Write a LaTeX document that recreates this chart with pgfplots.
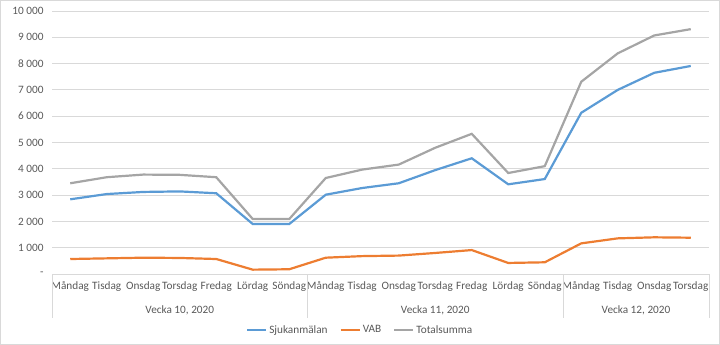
\documentclass[border=0pt]{standalone}
\usepackage{fontspec}
\setmainfont{Carlito}
\usepackage{pgfplots}
\pgfplotsset{compat=1.18}
\definecolor{sjuk}{HTML}{5B9BD5}
\definecolor{vab}{HTML}{ED7D31}
\definecolor{tot}{HTML}{A5A5A5}
\definecolor{txt}{HTML}{595959}
\definecolor{gridc}{HTML}{D9D9D9}
\begin{document}
\begin{tikzpicture}[x=1bp,y=1bp]
\begin{axis}[
  at={(52bp,71bp)}, anchor=south west,
  scale only axis, width=657bp, height=263bp,
  xmin=0, xmax=18, ymin=0, ymax=10000,
  clip=false,
  scaled y ticks=false,
  axis line style={draw=none},
  axis x line*=bottom,
  ytick={0,1000,...,10000},
  yticklabels={{-},{1 000},{2 000},{3 000},{4 000},{5 000},{6 000},{7 000},{8 000},{9 000},{10 000}},
  xtick={0.5,1.5,...,17.5},
  xticklabels={Måndag,Tisdag,Onsdag,Torsdag,Fredag,Lördag,Söndag,Måndag,Tisdag,Onsdag,Torsdag,Fredag,Lördag,Söndag,Måndag,Tisdag,Onsdag,Torsdag},
  major tick length=0pt,
  ymajorgrids, grid style={gridc, line width=0.8bp},
  ticklabel style={font=\fontsize{11.3}{13}\selectfont, text=txt},
  yticklabel style={xshift=-5bp},
  xticklabel style={yshift=-4bp},
  legend style={at={(0.469,-0.213)}, anchor=center, draw=none, legend columns=3,
    font=\fontsize{11.3}{13}\selectfont, text=txt,
    /tikz/every even column/.append style={column sep=10bp}},
  legend image code/.code={\draw[#1] (0bp,0bp) -- (19bp,0bp);},
  every axis plot/.append style={line width=2.2bp, no markers},
]
\draw[gridc, line width=0.8bp] (axis cs:0,0) -- (axis cs:18,0);
\draw[gridc, line width=0.8bp] (axis cs:0,0) -- ++(0,-44bp);
\draw[gridc, line width=0.8bp] (axis cs:7,0) -- ++(0,-44bp);
\draw[gridc, line width=0.8bp] (axis cs:14,0) -- ++(0,-44bp);
\draw[gridc, line width=0.8bp] (axis cs:18,0) -- ++(0,-44bp);
\node[font=\fontsize{11.3}{13}\selectfont, text=txt] at ([yshift=-36bp]axis cs:3.5,0) {Vecka 10, 2020};
\node[font=\fontsize{11.3}{13}\selectfont, text=txt] at ([yshift=-36bp]axis cs:10.5,0) {Vecka 11, 2020};
\node[font=\fontsize{11.3}{13}\selectfont, text=txt] at ([yshift=-36bp]axis cs:16,0) {Vecka 12, 2020};
\addplot[sjuk] coordinates {
(0.5,2840) (1.5,3040) (2.5,3120) (3.5,3140) (4.5,3070) (5.5,1900) (6.5,1900)
(7.5,3015) (8.5,3270) (9.5,3450) (10.5,3950) (11.5,4400) (12.5,3410) (13.5,3610)
(14.5,6130) (15.5,7000) (16.5,7650) (17.5,7910)};
\addlegendentry{Sjukanmälan}
\addplot[vab] coordinates {
(0.5,570) (1.5,595) (2.5,620) (3.5,610) (4.5,570) (5.5,165) (6.5,180)
(7.5,620) (8.5,680) (9.5,700) (10.5,800) (11.5,910) (12.5,420) (13.5,445)
(14.5,1165) (15.5,1355) (16.5,1395) (17.5,1380)};
\addlegendentry{VAB}
\addplot[tot] coordinates {
(0.5,3450) (1.5,3680) (2.5,3780) (3.5,3770) (4.5,3680) (5.5,2090) (6.5,2090)
(7.5,3650) (8.5,3970) (9.5,4160) (10.5,4800) (11.5,5330) (12.5,3840) (13.5,4100)
(14.5,7310) (15.5,8390) (16.5,9070) (17.5,9310)};
\addlegendentry{Totalsumma}
\end{axis}
\draw[gridc, line width=0.8bp] (0.5bp,0.5bp) rectangle (719.5bp,344.5bp);
\pgfresetboundingbox
\useasboundingbox (0,0) rectangle (720bp,345bp);
\end{tikzpicture}
\end{document}
